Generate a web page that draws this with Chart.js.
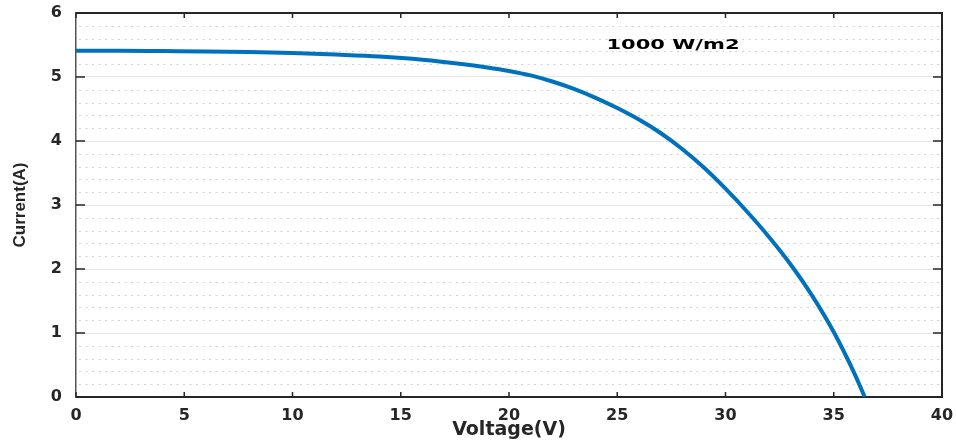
<!DOCTYPE html>
<html>
<head>
<meta charset="utf-8">
<script src="https://cdn.jsdelivr.net/npm/chart.js@4"></script>
<style>
  html, body { margin: 0; padding: 0; background: #fff; }
  #wrap { width: 956px; height: 440px; }
</style>
</head>
<body>
<div id="wrap"><canvas id="ivChart" width="956" height="440"></canvas></div>
<script>
// I-V curve
var VOLTAGE = [0, 2, 4, 6, 8, 10, 12, 14, 16, 18, 19, 20, 21, 22, 23, 24, 25, 26, 27, 28, 29, 30, 31, 32, 33, 34, 35, 36, 36.43];
var CURRENT = [5.41, 5.41, 5.405, 5.40, 5.39, 5.375, 5.35, 5.32, 5.27, 5.195, 5.15, 5.095, 5.025, 4.93, 4.815, 4.675, 4.515, 4.335, 4.125, 3.875, 3.585, 3.255, 2.895, 2.505, 2.075, 1.585, 1.015, 0.335, 0];

var X_TICKS = [0, 5, 10, 15, 20, 25, 30, 35, 40];
var Y_TICKS = [0, 1, 2, 3, 4, 5, 6];
var LABEL_TEXT = '1000 W/m2';
var LABEL_POS = { x: 24.5, y: 5.5 };

var AXIS_COLOR = '#262626';
var FONT = '"DejaVu Sans", "Liberation Sans", sans-serif';

var points = VOLTAGE.map(function (v, i) { return { x: v, y: CURRENT[i] }; });

var matlabBox = {
    id: 'matlabBox',
    beforeDatasetsDraw: function (chart) {
        var ctx = chart.ctx, a = chart.chartArea, y = chart.scales.y;
        ctx.save();
        ctx.strokeStyle = '#d2d2d2';
        ctx.lineWidth = 1;
        ctx.setLineDash([2, 4.5]);
        // minor grid every 0.2
        for (var i = 1; i < 30; i++) {
            if (i % 5 === 0) continue;
            var py = Math.round(y.getPixelForValue(i * 0.2)) + 0.5;
            ctx.beginPath();
            ctx.moveTo(a.left + 3, py);
            ctx.lineTo(a.right, py);
            ctx.stroke();
        }
        ctx.restore();
    },
    afterDatasetsDraw: function (chart) {
        var ctx = chart.ctx, a = chart.chartArea, x = chart.scales.x, y = chart.scales.y;
        ctx.save();
        // label, stretched like the original figure
        ctx.fillStyle = '#000';
        ctx.font = 'bold 14px ' + FONT;
        ctx.textAlign = 'left';
        ctx.textBaseline = 'middle';
        ctx.translate(x.getPixelForValue(LABEL_POS.x), y.getPixelForValue(LABEL_POS.y));
        ctx.scale(1.5, 1);
        ctx.fillText(LABEL_TEXT, 0, 0);
        ctx.restore();

        ctx.save();
        // top and right frame
        ctx.strokeStyle = AXIS_COLOR;
        ctx.lineWidth = 2;
        ctx.beginPath();
        ctx.moveTo(a.left, a.top);
        ctx.lineTo(a.right, a.top);
        ctx.lineTo(a.right, a.bottom);
        ctx.stroke();

        // inward ticks on all four sides
        ctx.lineWidth = 1.5;
        ctx.beginPath();
        X_TICKS.forEach(function (t) {
            var px = x.getPixelForValue(t);
            ctx.moveTo(px, a.bottom); ctx.lineTo(px, a.bottom - 5);
            ctx.moveTo(px, a.top); ctx.lineTo(px, a.top + 5);
        });
        Y_TICKS.forEach(function (t) {
            var py = y.getPixelForValue(t);
            ctx.moveTo(a.left, py); ctx.lineTo(a.left + 9, py);
            ctx.moveTo(a.right, py); ctx.lineTo(a.right - 9, py);
        });
        ctx.stroke();
        ctx.restore();
    }
};

new Chart(document.getElementById('ivChart'), {
    type: 'line',
    data: {
        datasets: [{
            data: points,
            borderColor: '#0072BD',
            borderWidth: 4,
            pointRadius: 0,
            fill: false,
            cubicInterpolationMode: 'monotone',
        }],
    },
    options: {
        responsive: false,
        animation: false,
        events: [],
        layout: { padding: { top: 13, right: 14, left: 0, bottom: 0 } },
        plugins: { legend: { display: false }, tooltip: { enabled: false } },
        scales: {
            x: {
                type: 'linear',
                min: 0, max: 40,
                afterFit: function (s) {
                    s.height = 43;
                    s.paddingLeft = 0;
                    s.paddingRight = 0;
                },
                afterBuildTicks: function (s) { s.ticks = X_TICKS.map(function (v) { return { value: v }; }); },
                ticks: {
                    color: AXIS_COLOR,
                    padding: 9,
                    maxRotation: 0,
                    font: { family: FONT, size: 16, weight: 'bold' },
                },
                grid: { drawOnChartArea: false, drawTicks: false },
                border: { color: AXIS_COLOR, width: 2 },
                title: {
                    display: true,
                    text: 'Voltage(V)',
                    color: AXIS_COLOR,
                    padding: { top: 0, bottom: -1 },
                    font: { family: FONT, size: 19, weight: 'bold' },
                },
            },
            y: {
                min: 0, max: 6,
                afterFit: function (s) {
                    s.width = 76;
                    s.paddingTop = 0;
                    s.paddingBottom = 0;
                },
                afterBuildTicks: function (s) { s.ticks = Y_TICKS.map(function (v) { return { value: v }; }); },
                ticks: {
                    color: AXIS_COLOR,
                    padding: 14,
                    font: { family: FONT, size: 16, weight: 'bold' },
                },
                grid: { color: '#e6e6e6', lineWidth: 1, drawTicks: false },
                border: { color: '#555555', width: 1.5 },
                title: {
                    display: true,
                    text: 'Current(A)',
                    color: AXIS_COLOR,
                    padding: { top: 10, bottom: 0 },
                    font: { family: '"Liberation Sans", Arial, sans-serif', size: 17, weight: 'bold' },
                },
            },
        },
    },
    plugins: [matlabBox],
});
</script>
</body>
</html>
